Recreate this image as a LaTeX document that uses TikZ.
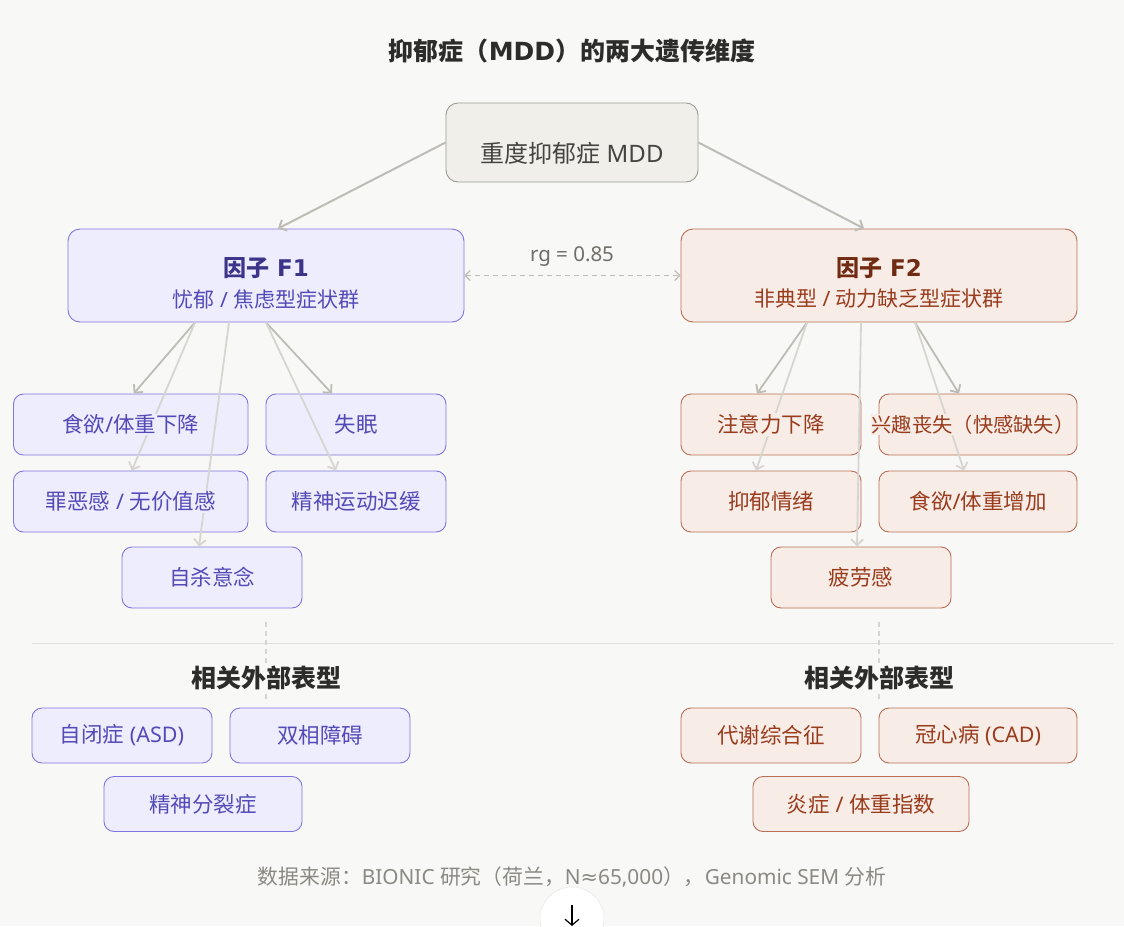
\documentclass[tikz,border=0pt]{standalone}
\usepackage{fontspec}
\setmainfont{Noto Sans}[BoldFont={DejaVu Sans Bold}]
\newfontfamily\cjkfont{Noto Sans CJK SC}
\newfontfamily\symfont{DejaVu Sans}
% CJK characters switch to the CJK font
\XeTeXinterchartokenstate=1
\newXeTeXintercharclass\cjkclass
\newcount\cjkcode
\cjkcode="3000 \loop\XeTeXcharclass\cjkcode=\cjkclass\advance\cjkcode 1 \ifnum\cjkcode<"3040 \repeat
\cjkcode="4E00 \loop\XeTeXcharclass\cjkcode=\cjkclass\advance\cjkcode 1 \ifnum\cjkcode<"A000 \repeat
\cjkcode="FF00 \loop\XeTeXcharclass\cjkcode=\cjkclass\advance\cjkcode 1 \ifnum\cjkcode<"FFF0 \repeat
\XeTeXinterchartoks 0 \cjkclass = {\cjkfont}
\XeTeXinterchartoks 4095 \cjkclass = {\cjkfont}
\XeTeXinterchartoks \cjkclass 0 = {\rmfamily}
\XeTeXinterchartoks \cjkclass 4095 = {\rmfamily}
\usepackage{xcolor}
\usepackage{tikz}
\usetikzlibrary{arrows.meta}
\definecolor{pagebg}{HTML}{F8F8F6}
\definecolor{titlegray}{HTML}{2C2C2A}
\definecolor{graybg}{HTML}{F0EFEA}
\definecolor{grayline}{HTML}{9A9992}
\definecolor{graytext}{HTML}{444441}
\definecolor{rggray}{HTML}{6F6E69}
\definecolor{purplebg}{HTML}{EEEDFE}
\definecolor{purpleline}{HTML}{7F77DD}
\definecolor{purpletext}{HTML}{534AB7}
\definecolor{purpledark}{HTML}{3C3489}
\definecolor{coralbg}{HTML}{F8ECE7}
\definecolor{coralline}{HTML}{B86E54}
\definecolor{coraltext}{HTML}{993C1D}
\definecolor{coraldark}{HTML}{712B13}
\definecolor{arrowgray}{HTML}{BDBCB6}
\definecolor{arrowlight}{HTML}{D6D5D0}
\definecolor{rulegray}{HTML}{E0DFDA}
\definecolor{notegray}{HTML}{8A8984}

\begin{document}
\begin{tikzpicture}[x=1pt,y=-1pt,
    box/.style={rounded corners=10pt,minimum height=61pt,inner sep=0pt,line width=0.9pt},
    pbox/.style={box,fill=purplebg,draw=purpleline},
    cbox/.style={box,fill=coralbg,draw=coralline},
    pext/.style={pbox,minimum height=55pt,text=purpletext,font=\fontsize{21.5}{26}\selectfont},
    cext/.style={cbox,minimum height=55pt,text=coraltext,font=\fontsize{21.5}{26}\selectfont},
    ptxt/.style={fill=purplebg,text=purpletext,inner sep=1pt,font=\fontsize{21.5}{26}\selectfont},
    ctxt/.style={fill=coralbg,text=coraltext,inner sep=1pt,font=\fontsize{21.5}{26}\selectfont},
    link/.style={draw=arrowgray,line width=1.8pt,-{Straight Barb[length=6pt,width=12pt]}},
    faint/.style={link,draw=arrowlight},
    heading/.style={fill=pagebg,text=titlegray,inner sep=2pt,font=\bfseries\fontsize{25}{30}\selectfont}]
    % Page
    \fill[pagebg] (0,0) rectangle (1124,926);
    \useasboundingbox (0,0) rectangle (1124,926);
    \node[heading] (title) at (572,51) {抑郁症（MDD）的两大遗传维度};
    % Boxes
    \node[box,fill=graybg,draw=grayline,minimum width=252pt,minimum height=79pt,rounded corners=12pt] (mdd) at (572,142.5) {};
    \node[pbox,minimum width=396pt,minimum height=93pt,rounded corners=12pt] (f1) at (266,275.5) {};
    \node[cbox,minimum width=396pt,minimum height=93pt,rounded corners=12pt] (f2) at (879,275.5) {};
    \node[pbox,minimum width=234.5pt] (appetite) at (130.75,424.5) {};
    \node[pbox,minimum width=180pt] (insomnia) at (356,424.5) {};
    \node[pbox,minimum width=234.5pt] (guilt) at (130.75,501.5) {};
    \node[pbox,minimum width=180pt] (psychomotor) at (356,501.5) {};
    \node[pbox,minimum width=180pt] (suicide) at (212,577.5) {};
    \node[cbox,minimum width=180pt] (concentration) at (771,424.5) {};
    \node[cbox,minimum width=198pt] (anhedonia) at (978,424.5) {};
    \node[cbox,minimum width=180pt] (mood) at (771,501.5) {};
    \node[cbox,minimum width=198pt] (appetiteup) at (978,501.5) {};
    \node[cbox,minimum width=180pt] (fatigue) at (861,577.5) {};
    % MDD to factors
    \draw[link,line width=2pt] (mdd.west) -- ([xshift=12pt]f1.north);
    \draw[link,line width=2pt] (mdd.east) -- ([xshift=-15pt]f2.north);
    \draw[arrowgray,line width=1.2pt,dash pattern=on 5pt off 4pt,
        {Straight Barb[length=5pt,width=10pt]}-{Straight Barb[length=5pt,width=10pt]}] (f1.east) -- (f2.west);
    \node[text=rggray,font=\fontsize{20.5}{24}\selectfont] (rg) at (572,257) {rg = 0.85};
    % Factor loadings
    \draw[link] ([xshift=-71pt]f1.south) -- ([xshift=3pt]appetite.north);
    \draw[faint] ([xshift=-71pt]f1.south) -- ([xshift=1pt]guilt.north);
    \draw[faint] ([xshift=-37pt]f1.south) -- ([xshift=-13pt]suicide.north);
    \draw[link] (f1.south) -- ([xshift=-24pt]insomnia.north);
    \draw[faint] (f1.south) -- ([xshift=-20pt]psychomotor.north);
    \draw[link] ([xshift=-72pt]f2.south) -- ([xshift=-14pt]concentration.north);
    \draw[faint] ([xshift=-72pt]f2.south) -- ([xshift=-15pt]mood.north);
    \draw[faint] ([xshift=-18pt]f2.south) -- ([xshift=-4pt]fatigue.north);
    \draw[link] ([xshift=36pt]f2.south) -- ([xshift=-19pt]anhedonia.north);
    \draw[faint] ([xshift=36pt]f2.south) -- ([xshift=-14pt]appetiteup.north);
    % Labels
    \node[text=graytext,font=\fontsize{24}{28}\selectfont] (mdd-t) at (572,153) {重度抑郁症 MDD};
    \node[text=purpledark,font=\bfseries\fontsize{23}{28}\selectfont] (f1-t) at (266,268) {因子 F1};
    \node[text=purpletext,font=\fontsize{21}{25}\selectfont] (f1-s) at (266,299) {忧郁 / 焦虑型症状群};
    \node[text=coraldark,font=\bfseries\fontsize{23}{28}\selectfont] (f2-t) at (879,268) {因子 F2};
    \node[text=coraltext,font=\fontsize{21}{25}\selectfont] (f2-s) at (879,299) {非典型 / 动力缺乏型症状群};
    \node[ptxt] (appetite-t) at (appetite) {食欲/体重下降};
    \node[ptxt] (insomnia-t) at (insomnia) {失眠};
    \node[ptxt] (guilt-t) at (guilt) {罪恶感 / 无价值感};
    \node[ptxt] (psychomotor-t) at (psychomotor) {精神运动迟缓};
    \node[ptxt] (suicide-t) at (suicide) {自杀意念};
    \node[ctxt] (concentration-t) at (concentration) {注意力下降};
    \node[ctxt,font=\fontsize{20.3}{24}\selectfont] (anhedonia-t) at (973,424.5) {兴趣丧失（快感缺失）};
    \node[ctxt] (mood-t) at (mood) {抑郁情绪};
    \node[ctxt] (appetiteup-t) at (appetiteup) {食欲/体重增加};
    \node[ctxt] (fatigue-t) at (fatigue) {疲劳感};
    % External phenotypes
    \draw[rulegray,line width=1pt] (32,643) -- (1113,643);
    \draw[arrowlight,line width=1.2pt,dash pattern=on 5pt off 4pt] (266,622) -- (266,703);
    \draw[arrowlight,line width=1.2pt,dash pattern=on 5pt off 4pt] (879,622) -- (879,703);
    \node[heading] (ext1) at (266,678) {相关外部表型};
    \node[heading] (ext2) at (879,678) {相关外部表型};
    \node[pext,minimum width=180pt] (asd) at (122,735.5) {自闭症 (ASD)};
    \node[pext,minimum width=180pt] (bipolar) at (320,735.5) {双相障碍};
    \node[pext,minimum width=198pt] (scz) at (203,804) {精神分裂症};
    \node[cext,minimum width=180pt] (metsyn) at (771,735.5) {代谢综合征};
    \node[cext,minimum width=198pt] (cad) at (978,735.5) {冠心病 (CAD)};
    \node[cext,minimum width=216pt] (inflam) at (861,804) {炎症 / 体重指数};
    % Source
    \node[text=notegray,font=\fontsize{20.8}{24}\selectfont] (source) at (572,877) {数据来源：BIONIC 研究（荷兰，N{\symfont ≈}65,000），Genomic SEM 分析};
    \draw[fill=white,draw=black!10] (572,919) circle (32pt);
    \draw[black,line width=1.2pt,-{Straight Barb[length=6pt,width=14pt]}] (572,905) -- (572,926);
\end{tikzpicture}
\end{document}
